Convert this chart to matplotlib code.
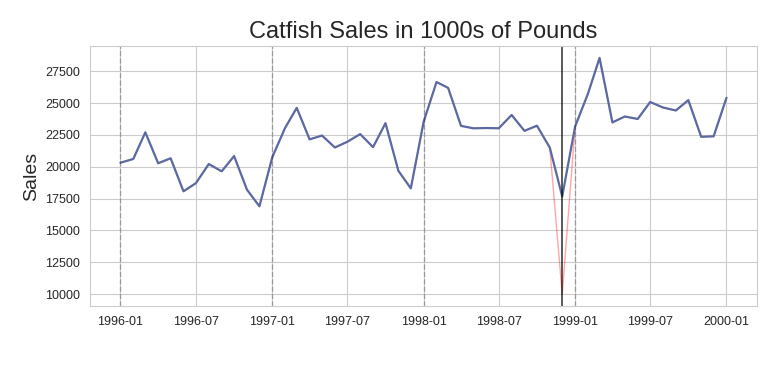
import matplotlib
matplotlib.use("Agg")
import matplotlib.pyplot as plt
import seaborn as sns
import pandas as pd
import numpy as np

sns.set_style("whitegrid")
plt.rcParams['font.family'] = ['Liberation Sans', 'DejaVu Sans']

dates = pd.date_range("1996-01-01", "2000-01-01", freq="MS")
sales = [20322, 20613, 22704, 20276, 20669, 18074, 18719, 20217, 19642, 20842, 18204, 16898,
         20746, 23058, 24624, 22154, 22451, 21514, 21964, 22566, 21542, 23424, 19686, 18306,
         23543, 26655, 26190, 23211, 23019, 23043, 23022, 24067, 22822, 23224, 21511, 17672,
         23158, 25734, 28544, 23484, 23947, 23752, 25086, 24651, 24419, 25234, 22354, 22390,
         25420]
anomaly_date = "1998-12-01"
anomaly_value = 10000
year_starts = ["1996-01-01", "1997-01-01", "1998-01-01", "1999-01-01"]

orig = pd.Series(sales, index=dates)
with_anom = orig.copy()
with_anom[pd.Timestamp(anomaly_date)] = anomaly_value

fig, ax = plt.subplots(figsize=(7.77, 3.75), dpi=100)
ax.plot(with_anom.index, with_anom.values, color='red', alpha=0.35, linewidth=1)
ax.plot(orig.index, orig.values, color='#5b6aa3', linewidth=1.6)
for d in year_starts:
    ax.axvline(pd.Timestamp(d), color='k', linestyle='--', alpha=0.25, linewidth=1)
ax.axvline(pd.Timestamp(anomaly_date), color='k', alpha=0.7, linewidth=1.3)

ax.set_title("Catfish Sales in 1000s of Pounds", fontsize=17, color='#262626')
ax.set_ylabel("Sales", fontsize=14, color='#262626')
ax.tick_params(axis='both', labelsize=9, colors='#262626')
ax.xaxis.set_major_formatter(matplotlib.dates.DateFormatter('%Y-%m'))
ax.xaxis.set_major_locator(matplotlib.dates.MonthLocator(bymonth=[1, 7]))

fig.subplots_adjust(left=0.116, right=0.974, top=0.877, bottom=0.184)
fig.savefig("out.png", dpi=100)
